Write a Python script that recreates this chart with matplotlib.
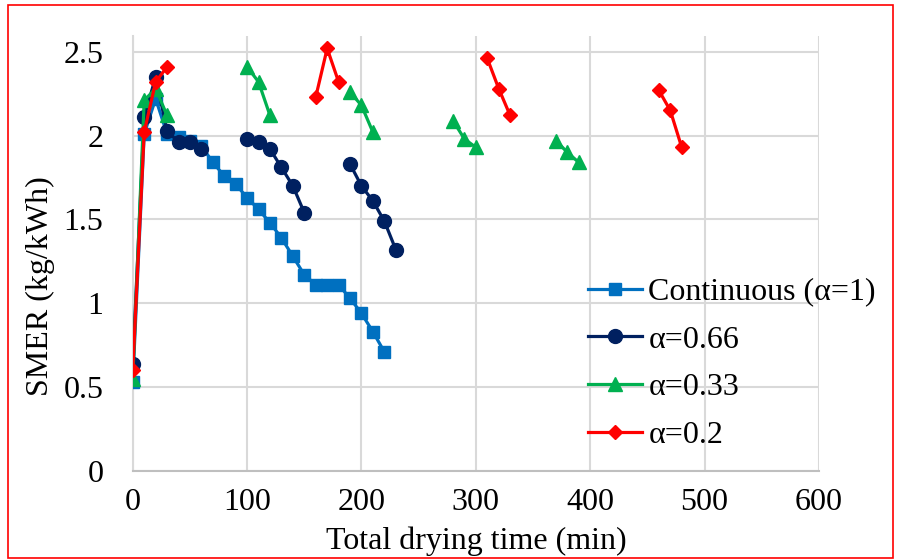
import numpy as np
import matplotlib
matplotlib.use("Agg")
import matplotlib.pyplot as plt
from matplotlib.patches import Rectangle

nan = np.nan

# Continuous drying (alpha = 1)
t_cont = [0, 10, 20, 30, 40, 50, 60, 70, 80, 90, 100, 110, 120, 130, 140,
          150, 160, 170, 180, 190, 200, 210, 220]
smer_cont = [0.53, 2.01, 2.22, 2.01, 1.99, 1.97, 1.94, 1.84, 1.76, 1.71, 1.63,
             1.56, 1.48, 1.39, 1.28, 1.17, 1.11, 1.11, 1.11, 1.03, 0.94, 0.83, 0.71]

# alpha = 0.66 (gaps = tempering periods)
t_066 = [0, 10, 20, 30, 40, 50, 60, nan, 100, 110, 120, 130, 140, 150, nan,
         190, 200, 210, 220, 230]
smer_066 = [0.64, 2.11, 2.35, 2.03, 1.96, 1.96, 1.92, nan, 1.98, 1.96, 1.92,
            1.81, 1.70, 1.54, nan, 1.83, 1.70, 1.61, 1.49, 1.32]

# alpha = 0.33
t_033 = [0, 10, 20, 30, nan, 100, 110, 120, nan, 190, 200, 210, nan,
         280, 290, 300, nan, 370, 380, 390]
smer_033 = [0.55, 2.21, 2.28, 2.12, nan, 2.41, 2.32, 2.12, nan, 2.26, 2.18, 2.02,
            nan, 2.09, 1.98, 1.93, nan, 1.97, 1.90, 1.84]

# alpha = 0.2
t_02 = [0, 10, 20, 30, nan, 160, 170, 180, nan, 310, 320, 330, nan, 460, 470, 480]
smer_02 = [0.60, 2.02, 2.32, 2.41, nan, 2.23, 2.52, 2.32, nan, 2.46, 2.28, 2.12,
           nan, 2.27, 2.15, 1.93]

labels = ["Continuous (\u03b1=1)", "\u03b1=0.66", "\u03b1=0.33", "\u03b1=0.2"]
colors = ["#0070C0", "#002060", "#00B050", "#FF0000"]
markers = ["s", "o", "^", "D"]
msizes = [9, 10, 10, 7.5]

xticks = [0, 100, 200, 300, 400, 500, 600]
yticks = [0, 0.5, 1, 1.5, 2, 2.5]

plt.rcParams["font.family"] = ["Liberation Serif", "DejaVu Serif"]
FS = 23

fig = plt.figure(figsize=(8.97, 5.6), dpi=100)
ax = fig.add_axes([0.148, 0.159, 0.765, 0.777])

series = [(t_cont, smer_cont), (t_066, smer_066), (t_033, smer_033), (t_02, smer_02)]
for (t, s), lab, c, m, ms in zip(series, labels, colors, markers, msizes):
    ax.plot(t, s, color=c, marker=m, markersize=ms, linewidth=2.3,
            label=lab, zorder=3)

ax.set_xlim(0, 600)
ax.set_ylim(0, 2.595)
ax.set_xticks(xticks)
ax.set_yticks(yticks)
ax.set_yticklabels(["0", "0.5", "1", "1.5", "2", "2.5"])
ax.grid(True, color="#D9D9D9", linewidth=1.5, zorder=0)
ax.set_axisbelow(True)
ax.tick_params(length=0, labelsize=FS)
ax.tick_params(axis="x", pad=12)
ax.tick_params(axis="y", pad=21)
for side in ["top", "right"]:
    ax.spines[side].set_visible(False)
ax.spines["left"].set_color("#D9D9D9")
ax.spines["left"].set_linewidth(1.5)
ax.spines["bottom"].set_color("#BFBFBF")
ax.spines["bottom"].set_linewidth(1.5)

ax.set_xlabel("Total drying time (min)", fontsize=FS, labelpad=7)
ax.set_ylabel("SMER (kg/kWh)", fontsize=FS)
ax.yaxis.set_label_coords(-0.114, 0.425)

ax.legend(loc="upper left", bbox_to_anchor=(0.663, 0.445), frameon=False,
          fontsize=FS, handlelength=1.7, handletextpad=0.2, labelspacing=0.58,
          borderpad=0, borderaxespad=0)

# red frame around the whole chart
fig.patches.append(Rectangle((0.009, 0.003), 0.987, 0.988, transform=fig.transFigure,
                             fill=False, edgecolor="#FF0000", linewidth=1.2))

fig.savefig("out.png", dpi=100)
